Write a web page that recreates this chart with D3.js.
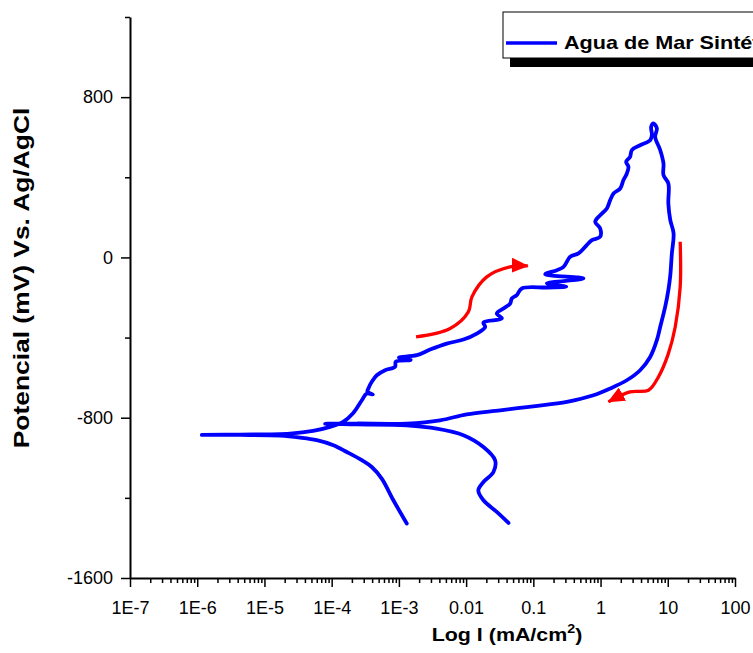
<!DOCTYPE html>
<html>
<head>
<meta charset="utf-8">
<script src="https://cdn.jsdelivr.net/npm/d3@7"></script>
<style>
body { margin: 0; background: #fff; }
svg { display: block; }
text { font-family: "Liberation Sans", Arial, sans-serif; }
</style>
</head>
<body>
<div id="chart"></div>
<script>
// cyclic polarization curve, synthetic sea water
const current = [
	1.31e-3, 8.28e-4, 5.56e-4, 3.95e-4, 2.81e-4, 1.68e-4, 1.06e-4, 6.0e-5, 3.39e-5, 1.71e-5,
	4.34e-6, 1.17e-6, 4.3e-6, 2.4e-5, 5.28e-5, 9.46e-5, 1.48e-4, 2.08e-4, 2.81e-4, 3.3e-4,
	4.1e-4, 3.4e-4, 3.52e-4, 3.95e-4, 4.69e-4, 6.24e-4, 8.77e-4, 9.0e-4, 1.5e-3, 1.0e-3,
	1.85e-3, 2.91e-3, 5.16e-3, 9.12e-3, 1.44e-2, 1.92e-2, 1.81e-2, 3.4e-2, 2.86e-2, 3.59e-2,
	4.52e-2, 4.79e-2, 5.67e-2, 6.74e-2, 0.159, 0.308, 0.159, 0.557, 0.150, 0.224,
	0.281, 0.353, 0.469, 0.590, 0.743, 0.986, 0.986, 0.832, 0.986, 1.24,
	1.39, 1.56, 1.96, 2.19, 2.46, 2.60, 2.40, 2.75, 2.92, 3.88,
	5.47, 5.80, 5.66, 6.12, 6.88, 6.49, 7.71, 8.63, 8.63, 10.2,
	10.2, 10.9, 12.2, 11.5, 10.9, 10.2, 9.14, 7.71, 6.88, 5.47,
	3.88, 2.46, 1.39, 0.783, 0.316, 0.100, 3.21e-2, 1.02e-2, 4.1e-3, 1.31e-3,
	2.37e-4, 7.98e-5, 2.37e-4, 1.31e-3, 3.66e-3, 9.12e-3, 1.81e-2, 2.7e-2, 2.55e-2, 1.81e-2,
	1.52e-2, 1.81e-2, 2.86e-2, 4.27e-2
];
const potential = [
	-1328, -1212, -1104, -1046, -1012, -971, -937, -912, -899, -889,
	-886, -886, -884, -879, -866, -846, -821, -778, -713, -680,
	-684, -670, -654, -621, -588, -563, -546, -520, -512, -500,
	-488, -460, -430, -410, -380, -347, -325, -305, -280, -255,
	-230, -205, -188, -155, -150, -146, -129, -105, -84, -64,
	-47, 3, 20, 53, 86, 103, 145, 178, 211, 244,
	286, 319, 344, 386, 419, 452, 477, 502, 536, 560,
	585, 610, 652, 669, 644, 602, 536, 469, 411, 369,
	269, 186, 120, 20, -89, -163, -247, -347, -413, -497,
	-563, -613, -654, -688, -721, -743, -763, -783, -813, -829,
	-829, -830, -833, -838, -854, -887, -946, -1012, -1071, -1121,
	-1162, -1212, -1270, -1325
];

// scan direction arrows [current, potential]
const arrow_forward = [[1.8e-3, -397], [5.78e-3, -355], [1.08e-2, -272], [1.22e-2, -197], [2.03e-2, -97], [4.52e-2, -47], [8.28e-2, -42]];
const arrow_reverse = [[15.3, 78], [15.3, -147], [12.9, -347], [10.2, -480], [7.27, -596], [5.16, -663], [2.75, -671], [1.31, -721]];

const x_ticks = [1e-7, 1e-6, 1e-5, 1e-4, 1e-3, 0.01, 0.1, 1, 10, 100];
const x_tick_labels = ['1E-7', '1E-6', '1E-5', '1E-4', '1E-3', '0.01', '0.1', '1', '10', '100'];
const y_ticks = [-1600, -800, 0, 800];
const y_tick_labels = ['-1600', '-800', '0', '800'];
const y_minor_ticks = [-1200, -400, 400, 1200];
const series_name = 'Agua de Mar Sintética';

chart_width = 753;
chart_height = 653;

x_scale = d3.scaleLog().domain([1e-7, 100]).range([130, 735]);
y_scale = d3.scaleLinear().domain([-1600, 1200]).range([578, 17]);

x_minor = [];
x_ticks.slice(0, -1).forEach(function(t) {
	for (let k = 2; k <= 9; k++) x_minor.push(t * k);
});

svg = d3.select('#chart')
	.append('svg')
	.attr('width', chart_width)
	.attr('height', chart_height);

defs = svg.append('defs');
defs.append('marker')
	.attr('id', 'head')
	.attr('markerUnits', 'userSpaceOnUse')
	.attr('markerWidth', 17)
	.attr('markerHeight', 15)
	.attr('refX', 16)
	.attr('refY', 7.5)
	.attr('orient', 'auto')
	.append('path')
	.attr('d', 'M0,0 L17,7.5 L0,15 Z')
	.attr('fill', '#ff0000');

// axes
x_axis = svg.append('g')
	.attr('transform', 'translate(0,578)')
	.call(d3.axisBottom(x_scale)
		.tickValues(x_ticks)
		.tickFormat((d, i) => x_tick_labels[i])
		.tickSize(9)
		.tickSizeOuter(0)
		.tickPadding(14));
svg.append('g')
	.attr('transform', 'translate(0,578)')
	.call(d3.axisBottom(x_scale).tickValues(x_minor).tickFormat('').tickSize(5).tickSizeOuter(0))
	.select('.domain').remove();

y_axis = svg.append('g')
	.attr('transform', 'translate(130,0)')
	.call(d3.axisLeft(y_scale)
		.tickValues(y_ticks)
		.tickFormat((d, i) => y_tick_labels[i])
		.tickSize(9)
		.tickSizeOuter(0)
		.tickPadding(8));
svg.append('g')
	.attr('transform', 'translate(130,0)')
	.call(d3.axisLeft(y_scale).tickValues(y_minor_ticks).tickFormat('').tickSize(5).tickSizeOuter(0))
	.select('.domain').remove();

svg.selectAll('.domain').attr('stroke', '#000').attr('stroke-width', 2);
svg.selectAll('.tick line').attr('stroke', '#000').attr('stroke-width', 1.5);
svg.selectAll('.tick text')
	.attr('fill', '#000')
	.attr('font-size', 18)
	.attr('font-family', '"Liberation Sans", Arial, sans-serif');

// curve
line = d3.line()
	.x((d) => x_scale(current[d]))
	.y((d) => y_scale(potential[d]))
	.curve(d3.curveCatmullRom.alpha(0.5));

svg.append('path')
	.attr('d', line(d3.range(current.length)))
	.attr('fill', 'none')
	.attr('stroke', '#0000ff')
	.attr('stroke-width', 3.8)
	.attr('stroke-linejoin', 'round')
	.attr('stroke-linecap', 'round');

arrow_line = d3.line()
	.x((d) => x_scale(d[0]))
	.y((d) => y_scale(d[1]))
	.curve(d3.curveCatmullRom.alpha(0.5));

[arrow_forward, arrow_reverse].forEach(function(a) {
	svg.append('path')
		.attr('d', arrow_line(a))
		.attr('fill', 'none')
		.attr('stroke', '#ff0000')
		.attr('stroke-width', 3.3)
		.attr('marker-end', 'url(#head)');
});

// titles
x_title = svg.append('text')
	.attr('transform', 'translate(507,641) scale(1.19,1)')
	.attr('text-anchor', 'middle')
	.attr('font-size', 18)
	.attr('font-weight', 'bold');
x_title.append('tspan').text('Log I (mA/cm');
x_title.append('tspan').attr('font-size', 12).attr('dy', -8).text('2');
x_title.append('tspan').attr('dy', 8).text(')');

svg.append('text')
	.attr('transform', 'translate(29,278) rotate(-90) scale(1.2,1)')
	.attr('text-anchor', 'middle')
	.attr('font-size', 22)
	.attr('font-weight', 'bold')
	.text('Potencial (mV) Vs. Ag/AgCl');

// legend (runs past the right edge, as in the original)
svg.append('rect')
	.attr('x', 510).attr('y', 20)
	.attr('width', 300).attr('height', 47)
	.attr('fill', '#000');
svg.append('rect')
	.attr('x', 503).attr('y', 12)
	.attr('width', 300).attr('height', 46)
	.attr('fill', '#fff')
	.attr('stroke', '#000')
	.attr('stroke-width', 1);
svg.append('line')
	.attr('x1', 506).attr('x2', 557)
	.attr('y1', 43).attr('y2', 43)
	.attr('stroke', '#0000ff')
	.attr('stroke-width', 3.5);
svg.append('text')
	.attr('transform', 'translate(564,49) scale(1.2,1)')
	.attr('font-size', 18)
	.attr('font-weight', 'bold')
	.text(series_name);
</script>
</body>
</html>
